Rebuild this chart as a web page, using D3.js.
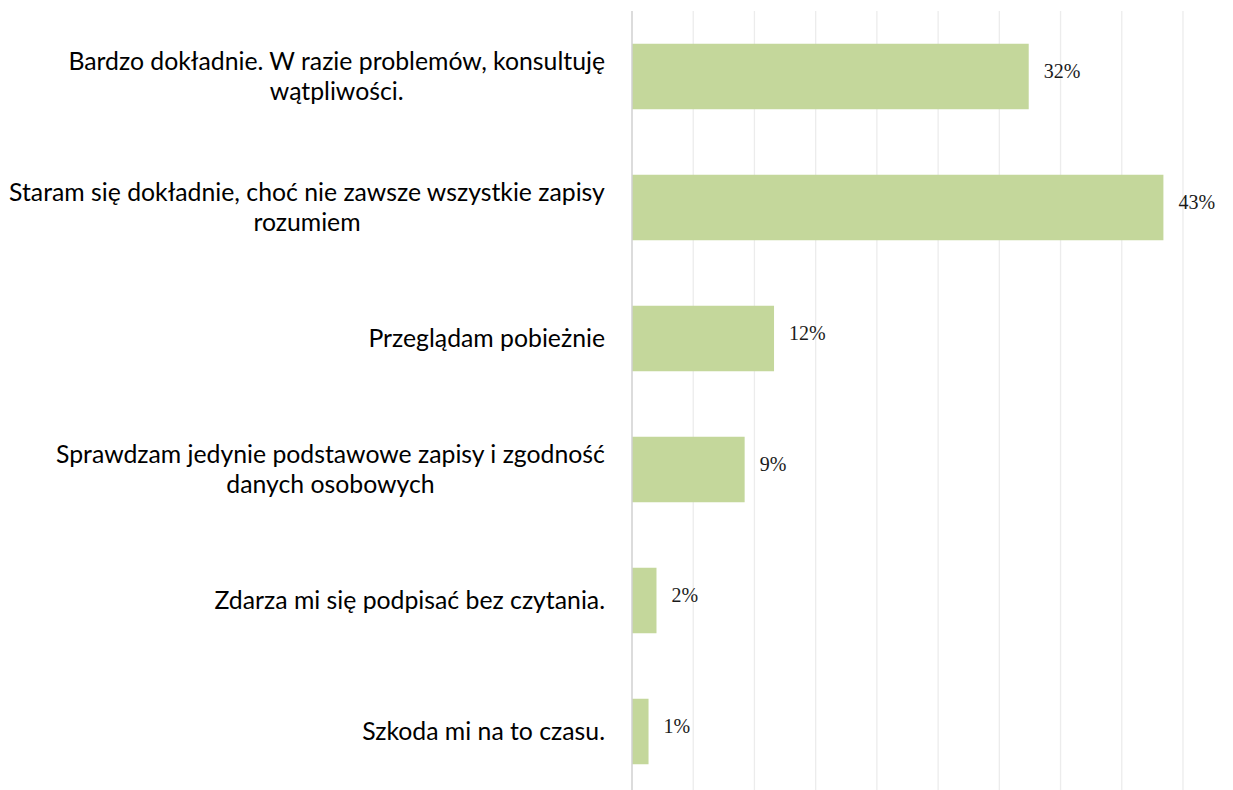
<!DOCTYPE html>
<html lang="pl">
<head>
    <meta charset="UTF-8">
    <title>Sposób czytania dokumentów</title>
    <script src="https://d3js.org/d3.v7.min.js"></script>
    <style>
        body {
            margin: 0;
            background-color: #fff;
        }
        .grid line {
            stroke: #ececec;
            stroke-width: 1.3px;
        }
        .axis-line {
            stroke: #d0d0d0;
            stroke-width: 1.5px;
        }
        .cat-label {
            font-family: Lato, "Noto Sans", sans-serif;
            fill: #000;
        }
        .val-label {
            font-family: "Liberation Serif", "DejaVu Serif", serif;
            font-size: 20px;
            fill: #1a1a1a;
        }
    </style>
</head>
<body>
    <div id="chart"></div>

    <script>
        // answers, with line breaks as in the original
        const categories = [
            "Bardzo dokładnie. W razie problemów, konsultuję\nwątpliwości.",
            "Staram się dokładnie, choć nie zawsze wszystkie zapisy\nrozumiem",
            "Przeglądam pobieżnie",
            "Sprawdzam jedynie podstawowe zapisy i zgodność\ndanych osobowych",
            "Zdarza mi się podpisać bez czytania.",
            "Szkoda mi na to czasu."
        ];
        // share of answers, percent
        const values = [32.4, 43.4, 11.6, 9.2, 2.0, 1.35];
        const gridTicks = [0, 5, 10, 15, 20, 25, 30, 35, 40, 45];

        const width = 1233;
        const height = 790;
        const margin = { top: 11, left: 632, right: 50 };
        const plotBottom = 797;   // plot runs slightly past the bottom edge

        const svg = d3.select("#chart")
            .append("svg")
            .attr("width", width)
            .attr("height", height);

        const x = d3.scaleLinear()
            .domain([0, 45])
            .range([margin.left, width - margin.right]);

        const y = d3.scaleBand()
            .domain(categories)
            .range([margin.top, plotBottom])
            .paddingInner(0.5)
            .paddingOuter(0.25);

        // vertical gridlines
        svg.append("g")
            .attr("class", "grid")
            .selectAll("line")
            .data(gridTicks.slice(1))
            .enter().append("line")
            .attr("x1", d => x(d))
            .attr("x2", d => x(d))
            .attr("y1", margin.top)
            .attr("y2", plotBottom);

        // bars
        svg.append("g")
            .selectAll("rect")
            .data(values)
            .enter().append("rect")
            .attr("x", x(0))
            .attr("y", (d, i) => y(categories[i]))
            .attr("width", d => x(d) - x(0))
            .attr("height", y.bandwidth())
            .attr("fill", "#c4d79b");

        // category axis line
        svg.append("line")
            .attr("class", "axis-line")
            .attr("x1", x(0))
            .attr("x2", x(0))
            .attr("y1", margin.top)
            .attr("y2", plotBottom);

        // value labels
        const fmt = d3.format(".0f");
        svg.append("g")
            .selectAll("text")
            .data(values)
            .enter().append("text")
            .attr("class", "val-label")
            .attr("x", d => x(d) + 15)
            .attr("y", (d, i) => y(categories[i]) + y.bandwidth() / 2 + 1.5)
            .text(d => fmt(d) + "%");

        // category labels: block right-aligned, lines centred in the block
        const labelRight = x(0) - 27;
        const lineHeight = 30;

        // fit font size so the longest line matches the original width
        const probe = svg.append("text")
            .attr("class", "cat-label")
            .style("font-size", "20px")
            .text(categories[0].split("\n")[0]);
        const fontSize = 20 * 537 / probe.node().getComputedTextLength();
        probe.remove();

        const labels = svg.append("g")
            .selectAll("g")
            .data(categories)
            .enter().append("g");

        labels.each(function(d) {
            const g = d3.select(this);
            const lines = d.split("\n");
            const cy = y(d) + y.bandwidth() / 2;
            const text = g.append("text")
                .attr("class", "cat-label")
                .style("font-size", fontSize + "px")
                .attr("text-anchor", "middle");
            lines.forEach((line, k) => {
                text.append("tspan")
                    .attr("x", 0)
                    .attr("y", cy + (k - (lines.length - 1) / 2) * lineHeight + fontSize * 0.35)
                    .text(line);
            });
            const w = text.node().getBBox().width;
            g.attr("transform", `translate(${labelRight - w / 2},0)`);
        });
    </script>
</body>
</html>
